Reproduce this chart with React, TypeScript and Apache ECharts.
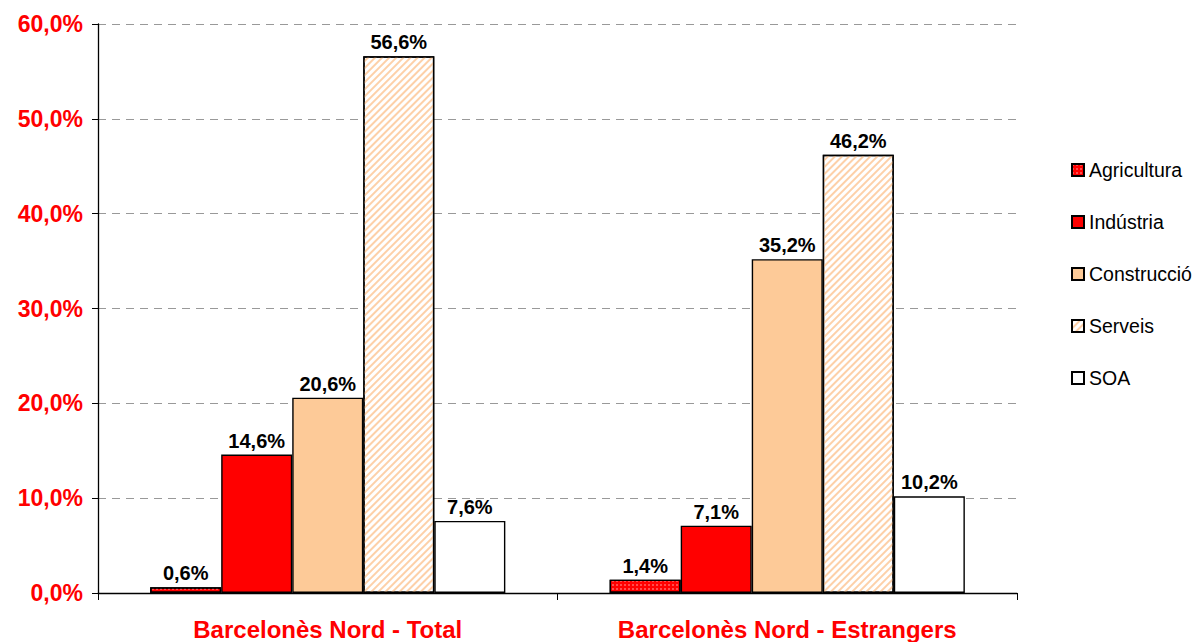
import React, { useEffect, useRef } from "react";
import * as echarts from "echarts";

const categories = ["Barcelonès Nord - Total", "Barcelonès Nord - Estrangers"];
const seriesNames = ["Agricultura", "Indústria", "Construcció", "Serveis", "SOA"];
const agricultura = [0.6, 1.4];
const industria = [14.6, 7.1];
const construccio = [20.6, 35.2];
const serveis = [56.6, 46.2];
const soa = [7.6, 10.2];
const yTicks = [0, 10, 20, 30, 40, 50, 60];

const fmt = (v: number) => v.toFixed(1).replace(".", ",") + "%";

export default function App() {
  const ref = useRef<HTMLDivElement>(null);
  useEffect(() => {
    if (!ref.current) return;
    const chart = echarts.init(ref.current, undefined, { renderer: "svg" });
    const font = "'Liberation Sans', Arial, sans-serif";
    const label = {
      show: true,
      position: "top" as const,
      formatter: (p: any) => fmt(p.value),
      color: "#000",
      fontWeight: "bold" as const,
      fontSize: 20,
      fontFamily: font,
      distance: 4,
    };
    const base = {
      type: "bar" as const,
      barGap: "0%",
      barCategoryGap: "22.7%",
      label,
    };
    const border = { borderColor: "#000", borderWidth: 1.4 };
    chart.setOption({
      animation: false,
      textStyle: { fontFamily: font },
      grid: { left: 98, top: 24, right: 185, bottom: 49, containLabel: false },
      legend: {
        orient: "vertical",
        left: 1066,
        top: 155,
        icon: "rect",
        itemWidth: 12,
        itemHeight: 12,
        itemGap: 32,
        textStyle: { fontSize: 19.5, color: "#000", fontFamily: font, padding: [0, 0, 0, 0] },
        data: seriesNames,
      },
      xAxis: {
        type: "category",
        data: categories,
        axisLine: { lineStyle: { color: "#000", width: 1.3 } },
        axisTick: { show: true, alignWithLabel: false, length: 7, lineStyle: { color: "#000" } },
        axisLabel: {
          color: "#ff0000",
          fontWeight: "bold",
          fontSize: 24,
          fontFamily: font,
          margin: 24,
        },
      },
      yAxis: {
        type: "value",
        min: 0,
        max: 60,
        interval: 10,
        axisLine: { show: true, lineStyle: { color: "#000", width: 1.3 } },
        axisTick: { show: true, length: 6, inside: false, lineStyle: { color: "#000" } },
        axisLabel: {
          color: "#ff0000",
          fontWeight: "bold",
          fontSize: 23,
          fontFamily: font,
          margin: 15,
          formatter: (v: number) => (yTicks.includes(v) ? fmt(v) : ""),
        },
        splitLine: { show: true, lineStyle: { color: "#999", type: [8, 6], width: 1 } },
      },
      series: [
        {
          ...base,
          name: seriesNames[0],
          data: agricultura,
          itemStyle: {
            color: "#ff0000",
            ...border,
            decal: {
              symbol: "rect",
              color: "#ffffff",
              symbolSize: 0.6,
              dashArrayX: [[2, 2]],
              dashArrayY: [2, 2],
              rotation: 0,
            },
          },
        },
        { ...base, name: seriesNames[1], data: industria, itemStyle: { color: "#ff0000", ...border } },
        { ...base, name: seriesNames[2], data: construccio, itemStyle: { color: "#fdca98", ...border } },
        {
          ...base,
          name: seriesNames[3],
          data: serveis,
          itemStyle: {
            color: "#ffffff",
            ...border,
            decal: {
              symbol: "rect",
              color: "#fdd0a8",
              dashArrayX: [1, 0],
              dashArrayY: [2, 3],
              rotation: -Math.PI / 4,
            },
          },
        },
        { ...base, name: seriesNames[4], data: soa, itemStyle: { color: "#ffffff", ...border } },
      ],
    });
    return () => chart.dispose();
  }, []);
  return (
    <div
      ref={ref}
      style={{ position: "fixed", left: 0, top: 0, width: 1202, height: 642, background: "#fff" }}
    />
  );
}
